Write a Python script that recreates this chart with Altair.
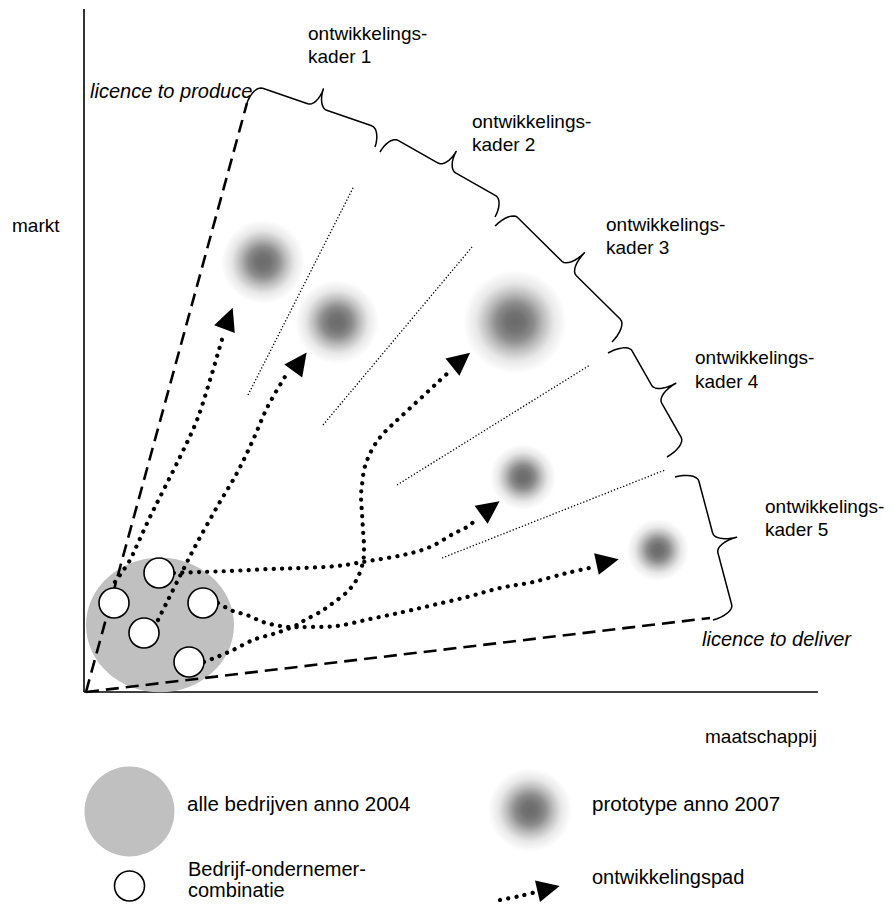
import math
import altair as alt
import pandas as pd

FONT = "Liberation Sans Narrow, Liberation Sans, sans-serif"

# ---------------- data (pixel coordinates of the drawing) ----------------
# axes: vertical (markt) and horizontal (maatschappij)
axis_x1 = [84, 84]
axis_y1 = [9, 692]
axis_x2 = [84, 818]
axis_y2 = [692, 692]

# dashed boundaries: licence to produce / licence to deliver
lic_x1 = [86, 86]
lic_y1 = [692, 692]
lic_x2 = [247, 710]
lic_y2 = [103, 618]

# thin dotted separators between the development frames
sep_x1 = [248, 323, 397, 442]
sep_y1 = [395, 425, 485, 558]
sep_x2 = [354, 472, 590, 665]
sep_y2 = [186, 247, 365, 470]

# curly braces of the 5 frames: start, end, depth
brace_ax = [247, 380, 495, 608, 675]
brace_ay = [103, 152, 226, 353, 477]
brace_bx = [375, 495, 612, 667, 713]
brace_by = [147, 217, 342, 457, 620]
brace_h = [19, 19, 22, 22, 22]

# blurred prototypes 2007 (last one is the legend symbol)
blob_x = [263, 337, 515, 523, 658, 530]
blob_y = [262, 322, 322, 477, 550, 810]
blob_r = [42, 42, 52, 33, 31, 42]

# grey area: all companies 2004
area_x = [160]
area_y = [625]
area_r = [74]
legend_area_x = [129.5]
legend_area_y = [811.5]
legend_area_r = [45]

# white circles: company-entrepreneur combinations (last one legend)
comb_x = [159, 114, 203, 144, 189, 129.5]
comb_y = [573, 603, 603, 633, 662, 886]

# development paths (dotted)
path_A_x = [115, 120, 130, 138, 150, 160, 180, 197, 210, 218, 223]
path_A_y = [582, 575, 560, 543, 517, 497, 457, 420, 380, 353, 336]
path_B_x = [158, 168, 182, 197, 217, 237, 253, 267, 283, 289]
path_B_y = [620, 600, 572, 543, 507, 473, 440, 408, 380, 371]
path_C_x = [204, 217, 233, 253, 273, 282, 297, 305, 320, 333, 347, 357, 363, 364,
            363, 362, 361, 362, 364, 368, 374, 382, 393, 407, 422, 437, 450]
path_C_y = [662, 657, 650, 640, 634, 631, 625, 620, 612, 603, 592, 579, 562, 547,
            530, 513, 497, 485, 470, 458, 446, 435, 424, 411, 397, 383, 371]
path_D_x = [174, 200, 230, 270, 303, 337, 363, 403, 430, 453, 467, 478]
path_D_y = [573, 572, 571, 569, 568, 566, 562, 555, 547, 534, 527, 518]
path_E_x = [218, 233, 247, 263, 280, 293, 307, 337, 370, 403, 433, 467, 500, 533, 567, 594]
path_E_y = [603, 611, 615, 622, 626, 627, 627, 626, 619, 612, 605, 597, 588, 582, 573, 567]
path_L_x = [500, 520, 536]
path_L_y = [900, 896, 892]

# arrow heads: centre and tip
head_x = [228, 299, 460, 489, 606, 547]
head_y = [320, 363, 361, 509, 562, 889]
tip_x = [233, 307, 471, 500, 620, 560]
tip_y = [307, 352, 352, 501, 559, 886]

# texts
txt = ["ontwikkelings-", "kader 1", "ontwikkelings-", "kader 2", "ontwikkelings-", "kader 3",
       "ontwikkelings-", "kader 4", "ontwikkelings-", "kader 5",
       "markt", "maatschappij",
       "alle bedrijven anno 2004", "prototype anno 2007",
       "Bedrijf-ondernemer-", "combinatie", "ontwikkelingspad"]
txt_x = [308, 308, 472, 472, 606, 606, 695, 695, 765, 765,
         12, 705, 187, 592, 188, 188, 592]
txt_y = [34, 57, 122, 145, 225, 248, 358, 382, 507, 530,
         226, 737, 805, 805, 870, 891, 878]
txt_size = [19, 19, 19, 19, 19, 19, 19, 19, 19, 19,
            19, 19, 20.5, 20.5, 20, 20, 20]
ital = ["licence  to produce", "licence  to deliver"]
ital_x = [90, 702]
ital_y = [92, 640]

# ---------------- build tables ----------------
xs = alt.Scale(domain=[8, 886], nice=False, zero=False)
ys = alt.Scale(domain=[8, 902], nice=False, zero=False, reverse=True)


def X(f):
    return alt.X(f, type="quantitative", scale=xs, axis=None)


def Y(f):
    return alt.Y(f, type="quantitative", scale=ys, axis=None)


def seg_df(x1, y1, x2, y2):
    return pd.DataFrame({"x": x1, "y": y1, "x2": x2, "y2": y2})


def brace_points(ax, ay, bx, by, h, r=10, n=8):
    L = math.hypot(bx - ax, by - ay)
    ux, uy = (bx - ax) / L, (by - ay) / L
    nx, ny = uy, -ux
    loc = []
    for k in range(n + 1):
        th = k / n * math.pi / 2
        loc.append((r * (1 - math.cos(th)), h * math.sin(th)))
    for k in range(n + 1):
        th = k / n * math.pi / 2
        loc.append((L / 2 - r + r * math.sin(th), h + h * (1 - math.cos(th))))
    full = loc + [(L - t, s) for (t, s) in reversed(loc)]
    return [(ax + t * ux + s * nx, ay + t * uy + s * ny) for t, s in full]


rows = []
for b in range(len(brace_ax)):
    for i, (px, py) in enumerate(brace_points(brace_ax[b], brace_ay[b], brace_bx[b], brace_by[b], brace_h[b])):
        rows.append({"b": b, "i": i, "x": px, "y": py})
brace_df = pd.DataFrame(rows)

rows = []
for name, px, py in [("A", path_A_x, path_A_y), ("B", path_B_x, path_B_y), ("C", path_C_x, path_C_y),
                     ("D", path_D_x, path_D_y), ("E", path_E_x, path_E_y), ("L", path_L_x, path_L_y)]:
    for i, (a, b) in enumerate(zip(px, py)):
        rows.append({"p": name, "i": i, "x": a, "y": b})
path_df = pd.DataFrame(rows)

head_df = pd.DataFrame({
    "x": head_x, "y": head_y,
    "ang": [math.degrees(math.atan2(tx - hx, -(ty - hy))) % 360
            for hx, hy, tx, ty in zip(head_x, head_y, tip_x, tip_y)],
})

blob_df = pd.DataFrame({"x": blob_x, "y": blob_y, "s": [(2 * r) ** 2 for r in blob_r]})

# ---------------- layers ----------------
axes = alt.Chart(seg_df(axis_x1, axis_y1, axis_x2, axis_y2)).mark_rule(
    color="black", strokeWidth=1.6).encode(x=X("x"), y=Y("y"), x2="x2", y2="y2")

licence = alt.Chart(seg_df(lic_x1, lic_y1, lic_x2, lic_y2)).mark_rule(
    color="black", strokeWidth=2.6, strokeDash=[13, 7]).encode(x=X("x"), y=Y("y"), x2="x2", y2="y2")

seps = alt.Chart(seg_df(sep_x1, sep_y1, sep_x2, sep_y2)).mark_rule(
    color="black", strokeWidth=1.3, strokeDash=[1.3, 2]).encode(x=X("x"), y=Y("y"), x2="x2", y2="y2")

ellipse = "M-1,0A1,0.91,0,1,0,1,0A1,0.91,0,1,0,-1,0Z"
area = alt.Chart(pd.DataFrame({"x": area_x, "y": area_y, "s": [(2 * r) ** 2 for r in area_r]})).mark_point(
    shape=ellipse, filled=True, fill="#c0c0c0", opacity=1, strokeWidth=0).encode(
    x=X("x"), y=Y("y"), size=alt.Size("s:Q", scale=None))

legend_area = alt.Chart(pd.DataFrame({"x": legend_area_x, "y": legend_area_y,
                                      "s": [(2 * r) ** 2 for r in legend_area_r]})).mark_circle(
    color="#c0c0c0", opacity=1).encode(x=X("x"), y=Y("y"), size=alt.Size("s:Q", scale=None))

grad = {
    "gradient": "radial", "x1": 0.5, "y1": 0.5, "r1": 0, "x2": 0.5, "y2": 0.5, "r2": 0.5,
    "stops": [
        {"offset": 0.0, "color": "#6b6b6b"},
        {"offset": 0.18, "color": "#727272"},
        {"offset": 0.36, "color": "#8c8c8c"},
        {"offset": 0.55, "color": "#bdbdbd"},
        {"offset": 0.75, "color": "#e8e8e8"},
        {"offset": 1.0, "color": "#ffffff"},
    ],
}
blobs = alt.Chart(blob_df).mark_point(shape="circle", filled=True, fill=grad, opacity=1, strokeWidth=0).encode(
    x=X("x"), y=Y("y"), size=alt.Size("s:Q", scale=None))

braces = alt.Chart(brace_df).mark_line(color="black", strokeWidth=1.5, strokeJoin="round").encode(
    x=X("x"), y=Y("y"), detail="b:N", order="i:Q")

paths = alt.Chart(path_df).mark_line(
    color="black", strokeWidth=4.2, strokeDash=[0.1, 8.2], strokeCap="round", interpolate="cardinal").encode(
    x=X("x"), y=Y("y"), detail="p:N", order="i:Q")

combos = alt.Chart(pd.DataFrame({"x": comb_x, "y": comb_y})).mark_point(
    shape="circle", filled=True, fill="white", stroke="black", strokeWidth=1.6, size=900, opacity=1).encode(
    x=X("x"), y=Y("y"))

arrow = "M0,-1L0.85,0.75L-0.85,0.75Z"
heads = alt.Chart(head_df).mark_point(shape=arrow, filled=True, color="black", size=676, opacity=1).encode(
    x=X("x"), y=Y("y"), angle=alt.Angle("ang:Q", scale=None))

texts = alt.Chart(pd.DataFrame({"t": txt, "x": txt_x, "y": txt_y, "fs": txt_size})).mark_text(
    align="left", baseline="middle", font=FONT, color="black").encode(
    x=X("x"), y=Y("y"), text="t:N", size=alt.Size("fs:Q", scale=None))

itexts = alt.Chart(pd.DataFrame({"t": ital, "x": ital_x, "y": ital_y})).mark_text(
    align="left", baseline="middle", font=FONT, fontSize=20, fontStyle="italic", color="black").encode(
    x=X("x"), y=Y("y"), text="t:N")

chart = alt.layer(
    axes, area, legend_area, blobs, seps, licence, braces, paths, combos, heads, texts, itexts
).properties(
    width=878, height=894, padding=0, autosize=alt.AutoSizeParams(type="none")
).configure_view(stroke=None)

chart.save("out.html", embed_options={"renderer": "svg", "actions": False})
